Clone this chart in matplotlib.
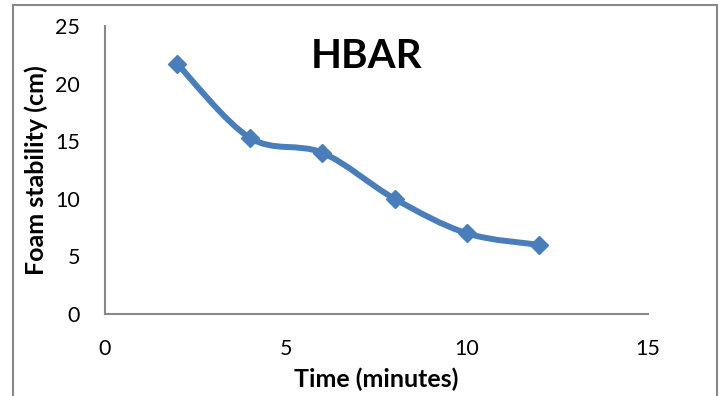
import matplotlib
matplotlib.use("Agg")
import matplotlib.pyplot as plt
import numpy as np
from matplotlib.path import Path
from matplotlib.patches import PathPatch
from matplotlib.lines import Line2D

# Foam stability measurements
time_min = [2, 4, 6, 8, 10, 12]
foam_cm = [21.7, 15.3, 14.0, 10.0, 7.0, 6.0]
x_ticks = [0, 5, 10, 15]
y_ticks = [0, 5, 10, 15, 20, 25]

plt.rcParams['font.family'] = ['Lato', 'DejaVu Sans']
blue = '#4A7EBB'
grey = '#888888'

fig = plt.figure(figsize=(7.21, 3.96), dpi=100)
ax = fig.add_axes([0.1456, 0.2071, 0.7532, 0.7272])

# Smoothed line through the points (Catmull-Rom style cubic Bezier segments)
pts = np.column_stack([time_min, foam_cm]).astype(float)
ext = np.vstack([pts[0], pts, pts[-1]])
verts = [tuple(pts[0])]
codes = [Path.MOVETO]
for i in range(len(pts) - 1):
    p0, p1, p2, p3 = ext[i], ext[i + 1], ext[i + 2], ext[i + 3]
    c1 = p1 + (p2 - p0) / 6.0
    c2 = p2 - (p3 - p1) / 6.0
    verts += [tuple(c1), tuple(c2), tuple(p2)]
    codes += [Path.CURVE4] * 3
ax.add_patch(PathPatch(Path(verts, codes), facecolor='none', edgecolor=blue,
                       lw=4.3, capstyle='round', joinstyle='round', zorder=2))
ax.plot(time_min, foam_cm, linestyle='none', marker='D', markersize=9.5,
        color=blue, zorder=3)

ax.set_xlim(0, 15)
ax.set_ylim(0, 25)
ax.set_xticks(x_ticks)
ax.set_yticks(y_ticks)
ax.tick_params(length=0, labelsize=15.5, colors='black')
ax.tick_params(axis='y', pad=18)
ax.tick_params(axis='x', pad=18)
for s in ['top', 'right']:
    ax.spines[s].set_visible(False)
for s in ['left', 'bottom']:
    ax.spines[s].set_color(grey)
    ax.spines[s].set_linewidth(1.5)

ax.set_xlabel('Time (minutes)', fontsize=18, fontweight='bold', labelpad=6)
ax.set_ylabel('Foam stability (cm)', fontsize=18, fontweight='bold', labelpad=5)

fig.text(366 / 721, 1 - 57 / 396, 'HBAR', fontsize=29, fontweight='bold',
         ha='center', va='center')

# Chart frame
W, H = 721, 396
fig.add_artist(Line2D([13 / W, 13 / W], [0, 1 - 5 / H], color=grey, lw=1.5))
fig.add_artist(Line2D([13 / W, 716.5 / W], [1 - 5 / H, 1 - 5 / H], color=grey, lw=1.5))
fig.add_artist(Line2D([716.5 / W, 716.5 / W], [0, 1 - 5 / H], color=grey, lw=1.5))

fig.savefig('out.png', dpi=100, facecolor='white')
